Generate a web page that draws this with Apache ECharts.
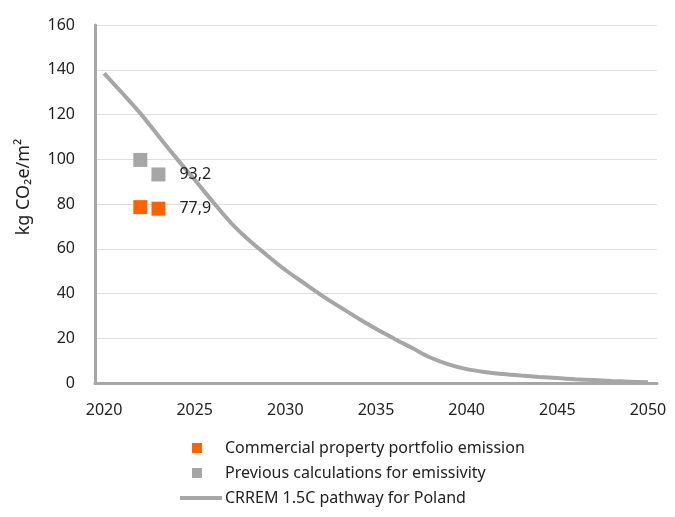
<!DOCTYPE html>
<html>
<head>
<meta charset="utf-8">
<script src="https://cdn.jsdelivr.net/npm/echarts@6/dist/echarts.min.js"></script>
<style>
  html, body { margin: 0; padding: 0; background: #fff; }
  #chart { width: 675px; height: 517px; }
</style>
</head>
<body>
<div id="chart"></div>
<script>
// Years on the horizontal axis (2020..2050)
const years = [];
for (let y = 2020; y <= 2050; y++) years.push(String(y));

// CRREM 1.5C decarbonisation pathway for Poland, kg CO2e/m2 per year
const pathway = [
  138.4, 129.6, 120.5, 110.4, 100.4, 90.8, 81.0, 71.6, 63.8, 57.0,
  50.5, 44.8, 39.2, 34.0, 29.0, 24.2, 19.8, 15.6, 11.4, 8.3,
  6.2, 4.9, 4.0, 3.3, 2.7, 2.2, 1.7, 1.3, 0.9, 0.6, 0.3
];

// Portfolio emission intensity (orange) and previous estimates (grey)
const portfolioYears = ['2022', '2023'];
const portfolioValues = [78.6, 77.9];
const previousYears = ['2022', '2023'];
const previousValues = [99.7, 93.2];

const yTicks = [0, 20, 40, 60, 80, 100, 120, 140, 160];

const ORANGE = '#ff6200';
const GREY = '#a6a6a6';
const FONT = '"Noto Sans", "Open Sans", sans-serif';

const NAME_PORTFOLIO = 'Commercial property portfolio emission';
const NAME_PREVIOUS = 'Previous calculations for emissivity';
const NAME_PATHWAY = 'CRREM 1.5C pathway for Poland';

function pointsWithLastLabel(xs, vs) {
  return xs.map((x, i) => ({
    value: [x, vs[i]],
    label: { show: i === xs.length - 1 }
  }));
}

const valueLabel = {
  position: 'right',
  distance: 14,
  color: '#222',
  fontSize: 16,
  fontFamily: FONT,
  formatter: p => String(p.value[1]).replace('.', ',')
};

const chart = echarts.init(document.getElementById('chart'), null, { renderer: 'canvas' });

chart.setOption({
  animation: false,
  textStyle: { fontFamily: FONT },
  grid: { left: 95, right: 18, top: 25, bottom: 134, containLabel: false },
  xAxis: {
    type: 'category',
    data: years,
    boundaryGap: true,
    axisLine: { show: true, lineStyle: { color: GREY, width: 3 } },
    axisTick: { show: false },
    axisLabel: {
      interval: 4,
      margin: 19,
      color: '#222',
      fontSize: 16,
      fontFamily: FONT
    },
    splitLine: { show: false }
  },
  yAxis: {
    type: 'value',
    min: yTicks[0],
    max: yTicks[yTicks.length - 1],
    interval: 20,
    name: 'kg CO\u2082e/m\u00B2',
    nameLocation: 'middle',
    nameGap: 62,
    nameTextStyle: { color: '#222', fontSize: 18, fontFamily: FONT, padding: [0, 0, 0, 34] },
    axisLine: { show: true, lineStyle: { color: GREY, width: 3 } },
    axisTick: { show: false },
    axisLabel: { color: '#222', fontSize: 16, margin: 20, fontFamily: FONT },
    splitLine: { show: true, lineStyle: { color: '#dedede', width: 1 } }
  },
  legend: [
    {
      orient: 'vertical',
      left: 192,
      top: 440,
      padding: 0,
      itemWidth: 10,
      itemHeight: 10,
      itemGap: 9,
      textStyle: { color: '#222', fontSize: 16, fontFamily: FONT, padding: [0, 0, 0, 18] },
      data: [
        { name: NAME_PORTFOLIO, icon: 'rect' },
        { name: NAME_PREVIOUS, icon: 'rect' }
      ]
    },
    {
      orient: 'vertical',
      left: 180,
      top: 490,
      padding: 0,
      itemWidth: 42,
      itemHeight: 4,
      textStyle: { color: '#222', fontSize: 16, fontFamily: FONT, padding: [0, 0, 0, -2] },
      data: [{ name: NAME_PATHWAY, icon: 'rect' }]
    }
  ],
  series: [
    {
      name: NAME_PATHWAY,
      type: 'line',
      data: pathway,
      smooth: 0.35,
      showSymbol: false,
      symbol: 'none',
      lineStyle: { color: GREY, width: 4 },
      itemStyle: { color: GREY },
      z: 2
    },
    {
      name: NAME_PREVIOUS,
      type: 'scatter',
      symbol: 'rect',
      symbolSize: 14,
      itemStyle: { color: GREY, opacity: 1 },
      data: pointsWithLastLabel(previousYears, previousValues),
      label: valueLabel,
      z: 3
    },
    {
      name: NAME_PORTFOLIO,
      type: 'scatter',
      symbol: 'rect',
      symbolSize: 14,
      itemStyle: { color: ORANGE, opacity: 1 },
      data: pointsWithLastLabel(portfolioYears, portfolioValues),
      label: valueLabel,
      z: 3
    }
  ]
});
</script>
</body>
</html>
